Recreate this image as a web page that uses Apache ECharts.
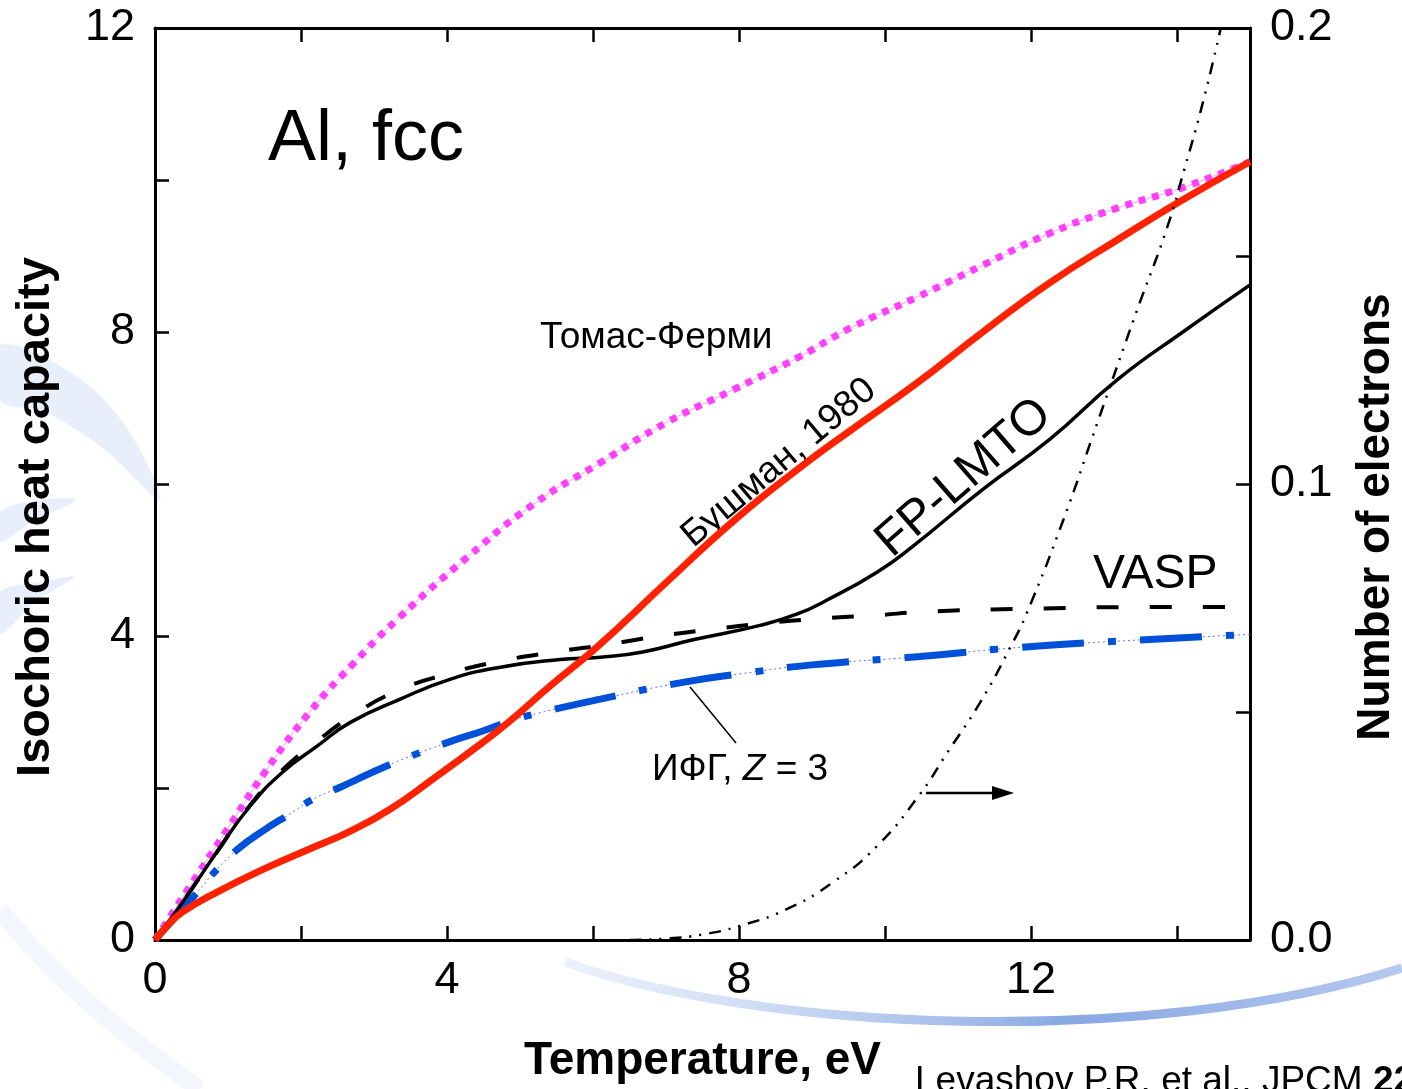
<!DOCTYPE html>
<html>
<head>
<meta charset="utf-8">
<script src="https://cdn.jsdelivr.net/npm/echarts@6/dist/echarts.min.js"></script>
<style>
  html, body { margin: 0; padding: 0; background: #fff; }
  #chart { width: 1402px; height: 1089px; }
</style>
</head>
<body>
<div id="chart"></div>
<script>
// temperature (eV) vs isochoric heat capacity
var thomasFermi = [[0,0],[0.5,0.74],[1,1.47],[1.5,2.2],[2.12,3.0],[2.71,3.63],[3.32,4.22],[4.27,5.03],[5.18,5.73],[6.1,6.28],[7.01,6.81],[7.92,7.24],[8.84,7.68],[9.52,8.05],[10.44,8.46],[11.34,8.88],[12.26,9.3],[13.18,9.63],[14.08,9.9],[15,10.24]];
var bushman = [[0,0],[0.2,0.22],[0.38,0.37],[0.85,0.63],[1.48,0.93],[2.22,1.24],[2.67,1.43],[3.22,1.72],[3.81,2.12],[4.49,2.6],[4.86,2.88],[5.41,3.34],[6.05,3.85],[7.01,4.71],[7.92,5.51],[8.84,6.22],[9.52,6.7],[10.44,7.33],[11.34,8.0],[12.26,8.65],[13.18,9.21],[14.08,9.74],[15,10.24]];
var fpLmto = [[0,0],[0.38,0.5],[0.85,1.16],[1.3,1.76],[1.75,2.21],[2.22,2.55],[2.67,2.86],[3.36,3.17],[4.04,3.43],[4.73,3.59],[5.55,3.69],[6.1,3.72],[6.68,3.79],[7.37,3.95],[8.29,4.14],[8.8,4.29],[9.2,4.47],[9.89,4.84],[10.38,5.18],[11.34,5.93],[12.26,6.59],[13.18,7.37],[14.08,8.0],[15,8.62]];
var vasp = [[0,0],[0.38,0.5],[0.85,1.16],[1.3,1.77],[1.75,2.24],[2.2,2.6],[2.7,2.95],[3.3,3.27],[4.0,3.5],[4.73,3.67],[5.55,3.8],[6.14,3.88],[6.92,4.0],[7.64,4.09],[8.38,4.17],[9.11,4.23],[9.84,4.27],[10.57,4.32],[12.03,4.36],[13.5,4.38],[15,4.38]];
var ifg = [[0,0],[0.59,0.64],[0.85,0.93],[1.14,1.2],[1.5,1.45],[1.85,1.66],[2.16,1.85],[2.56,2.02],[2.94,2.19],[3.32,2.35],[3.67,2.48],[4.07,2.62],[4.49,2.75],[4.86,2.88],[5.23,2.98],[6.1,3.17],[7.23,3.39],[8.0,3.5],[9.0,3.62],[10.48,3.73],[11.71,3.84],[12.95,3.92],[15,4.02]];
// number of electrons (right axis)
var electrons = [[6.5,0],[7,0.0003],[7.5,0.0012],[8.01,0.0031],[8.66,0.0068],[9.29,0.0127],[9.89,0.0206],[10.48,0.032],[10.85,0.041],[11.3,0.052],[11.71,0.064],[11.95,0.072],[12.44,0.092],[12.9,0.113],[13.45,0.138],[13.86,0.156],[14.1,0.169],[14.36,0.184],[14.6,0.2]];

var xTickLabels = [0, 4, 8, 12];
var yTickLabels = [0, 4, 8, 12];
var rightTickLabels = [0, 0.1, 0.2];

var FONT = '"Liberation Sans", Arial, sans-serif';

function pick(list, digits) {
  return function (v) {
    for (var i = 0; i < list.length; i++) {
      if (Math.abs(list[i] - v) < 1e-6) return digits ? v.toFixed(digits) : String(v);
    }
    return '';
  };
}

var axisLine = { show: true, onZero: false, lineStyle: { color: '#000', width: 3 } };
var axisTick = { show: true, inside: true, length: 14, lineStyle: { color: '#000', width: 2.5 } };
var tickText = { color: '#000', fontSize: 45, fontFamily: FONT };

function curve(data, style, yIndex) {
  return { type: 'line', data: data, yAxisIndex: yIndex || 0, showSymbol: false,
    smooth: 0.5, silent: true, lineStyle: style };
}

var myChart = echarts.init(document.getElementById('chart'));

var option = {
  animation: false,
  backgroundColor: '#fff',
  grid: { left: 155, right: 152, top: 28, bottom: 148 },
  xAxis: [{
    type: 'value', min: 0, max: 15, interval: 2,
    axisLine: axisLine, axisTick: axisTick, splitLine: { show: false },
    axisLabel: Object.assign({ margin: 18, formatter: pick(xTickLabels) }, tickText),
    name: 'Temperature, eV', nameLocation: 'middle', nameGap: 98,
    nameTextStyle: { color: '#000', fontSize: 46, fontWeight: 'bold', fontFamily: FONT }
  }, {
    type: 'value', position: 'top', min: 0, max: 15, interval: 2,
    axisLine: axisLine, axisTick: axisTick, splitLine: { show: false },
    axisLabel: { show: false }
  }],
  yAxis: [{
    type: 'value', position: 'left', min: 0, max: 12, interval: 2,
    axisLine: axisLine, axisTick: axisTick, splitLine: { show: false },
    axisLabel: Object.assign({ margin: 20, formatter: pick(yTickLabels) }, tickText)
  }, {
    type: 'value', position: 'right', min: 0, max: 0.2, interval: 0.05,
    axisLine: axisLine, axisTick: axisTick, splitLine: { show: false },
    axisLabel: Object.assign({ margin: 20, formatter: pick(rightTickLabels, 1) }, tickText)
  }],
  series: [
    // Томас-Ферми: square dots with a faint thin line under them
    curve(thomasFermi, { color: '#ff9cff', width: 1 }),
    curve(thomasFermi, { color: '#ff40ff', width: 7, type: [7, 7], cap: 'butt' }),
    // ИФГ: dash-dot over a thin dotted line
    curve(ifg, { color: '#6070ff', width: 1, type: [2, 3] }),
    curve(ifg, { color: '#0050d8', width: 7, type: [62, 24, 8, 24], cap: 'butt' }),
    // VASP dashed
    curve(vasp, { color: '#000', width: 4, type: [22, 31], cap: 'butt' }),
    // FP-LMTO
    curve(fpLmto, { color: '#000', width: 3.5 }),
    // Бушман, 1980
    curve(bushman, { color: '#ff2200', width: 7 }),
    // number of electrons
    curve(electrons, { color: '#000', width: 2.5, type: [12, 8, 2, 8, 2, 8], cap: 'butt' }, 1)
  ],
  graphic: [
    // background swooshes
    { type: 'bezierCurve', z: -10, silent: true,
      shape: { x1: 565, y1: 962, cpx1: 760, cpy1: 1032, cpx2: 1150, cpy2: 1048, x2: 1402, y2: 968 },
      style: { fill: null, lineWidth: 9,
        stroke: new echarts.graphic.LinearGradient(0, 0, 1, 0, [
          { offset: 0, color: 'rgba(225,234,250,0.6)' },
          { offset: 0.6, color: '#88a8e2' },
          { offset: 1, color: '#b6c9ef' }]) } },
    { type: 'polygon', z: -10, silent: true,
      shape: { smooth: 0.35, points: [[0, 345], [70, 372], [125, 425], [160, 500], [105, 450], [45, 412], [0, 400]] },
      style: { fill: 'rgba(205,219,244,0.45)' } },
    { type: 'polygon', z: -10, silent: true,
      shape: { smooth: 0.3, points: [[0, 512], [40, 500], [76, 500], [35, 520], [0, 542]] },
      style: { fill: 'rgba(212,224,246,0.5)' } },
    { type: 'polygon', z: -10, silent: true,
      shape: { smooth: 0.3, points: [[0, 592], [40, 582], [74, 577], [35, 602], [0, 634]] },
      style: { fill: 'rgba(212,224,246,0.5)' } },
    { type: 'bezierCurve', z: -10, silent: true,
      shape: { x1: 0, y1: 910, cpx1: 60, cpy1: 985, cpx2: 130, cpy2: 1040, x2: 200, y2: 1089 },
      style: { fill: null, lineWidth: 18, stroke: 'rgba(225,233,247,0.4)' } },

    // axis titles on y
    { type: 'text', x: 36, y: 517, rotation: Math.PI / 2, silent: true,
      style: { text: 'Isochoric heat capacity', font: 'bold 47px ' + FONT, fill: '#000', align: 'center', verticalAlign: 'middle' } },
    { type: 'text', x: 1376, y: 517, rotation: Math.PI / 2, silent: true,
      style: { text: 'Number of electrons', font: 'bold 46px ' + FONT, fill: '#000', align: 'center', verticalAlign: 'middle' } },

    // annotations
    { type: 'text', x: 268, y: 140, silent: true,
      style: { text: 'Al, fcc', font: '72px ' + FONT, fill: '#000', align: 'left', verticalAlign: 'middle' } },
    { type: 'text', x: 540, y: 338, silent: true,
      style: { text: 'Томас-Ферми', font: '37px ' + FONT, fill: '#000', align: 'left', verticalAlign: 'middle' } },
    { type: 'text', x: 779, y: 463, rotation: 40 * Math.PI / 180, silent: true,
      style: { text: 'Бушман, 1980', font: '37px ' + FONT, fill: '#000', align: 'center', verticalAlign: 'middle' } },
    { type: 'text', x: 964, y: 478, rotation: 41 * Math.PI / 180, silent: true,
      style: { text: 'FP-LMTO', font: '49px ' + FONT, fill: '#000', align: 'center', verticalAlign: 'middle' } },
    { type: 'text', x: 1093, y: 575, silent: true,
      style: { text: 'VASP', font: '48px ' + FONT, fill: '#000', align: 'left', verticalAlign: 'middle' } },
    { type: 'text', x: 652, y: 770, silent: true,
      style: { text: '{a|ИФГ, }{b|Z}{a| = 3}', align: 'left', verticalAlign: 'middle',
        rich: { a: { font: '37px ' + FONT, fill: '#000' }, b: { font: 'italic 37px ' + FONT, fill: '#000' } } } },
    { type: 'line', silent: true, shape: { x1: 690, y1: 687, x2: 736, y2: 743 },
      style: { stroke: '#000', lineWidth: 1.5 } },
    { type: 'line', silent: true, shape: { x1: 926, y1: 793, x2: 996, y2: 793 },
      style: { stroke: '#000', lineWidth: 2.5 } },
    { type: 'polygon', silent: true, shape: { points: [[1014, 793], [992, 786], [992, 800]] },
      style: { fill: '#000' } },

    // citation
    { type: 'text', x: 915, y: 1082, silent: true,
      style: { text: '{n|Levashov P.R. et al., JPCM }{b|22}', align: 'left', verticalAlign: 'middle',
        rich: { n: { font: '37px ' + FONT, fill: '#000' }, b: { font: 'bold 37px ' + FONT, fill: '#000' } } } }
  ]
};

option && myChart.setOption(option);
</script>
</body>
</html>
